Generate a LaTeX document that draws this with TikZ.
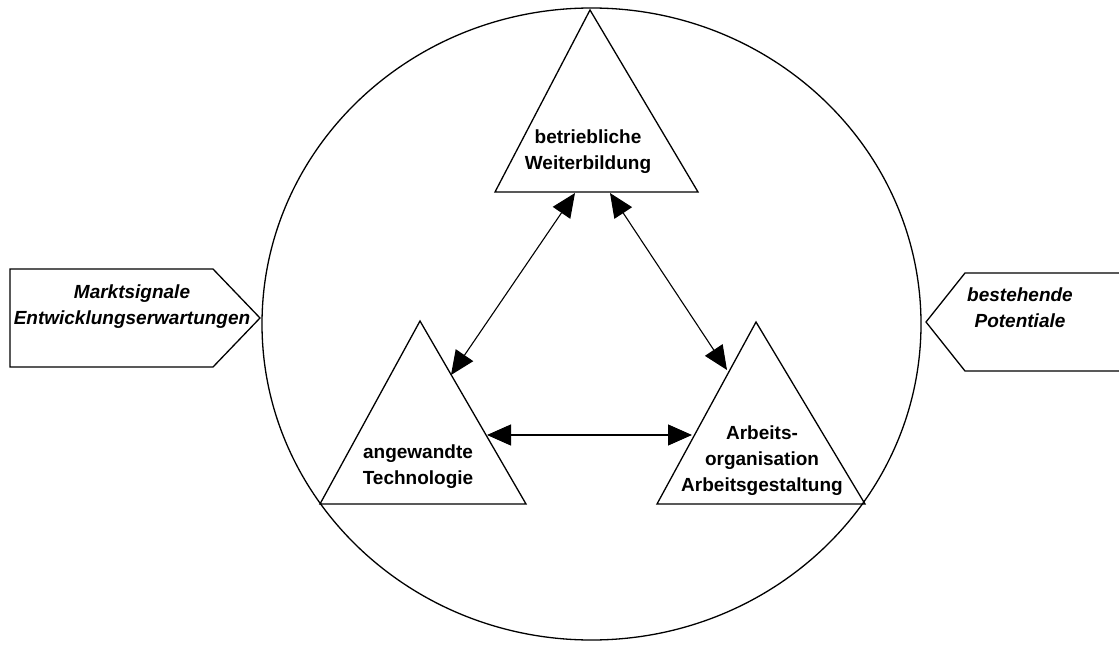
\documentclass[tikz,border=0pt]{standalone}
\usepackage{fontspec}
\setmainfont{Liberation Sans}
\usetikzlibrary{arrows.meta}
\tikzset{
  outline/.style={line width=1.3pt, line join=miter},
  lbl/.style={font=\fontsize{19}{26}\selectfont\bfseries, align=center, inner sep=0pt},
  ilbl/.style={font=\fontsize{19}{26}\selectfont\bfseries\itshape, align=center, inner sep=0pt},
  dbl/.style={line width=1.1pt, {Triangle[length=24pt,width=21pt]}-{Triangle[length=24pt,width=21pt]}}
}
\begin{document}
\begin{tikzpicture}[x=1pt,y=-1pt]
\useasboundingbox (0,0) rectangle (1119,647);
\fill[white] (0,0) rectangle (1119,647);
% big ellipse
\draw[outline] (591.5,324) ellipse [x radius=329.5pt, y radius=316pt];
% triangles
\draw[outline] (590,10) -- (698,192) -- (495,192) -- cycle;
\draw[outline] (420,321) -- (526,504) -- (320,504) -- cycle;
\draw[outline] (756,322) -- (865,504) -- (657,504) -- cycle;
% pentagon arrows
\draw[outline] (10,269) -- (213,269) -- (260,318) -- (213,367) -- (10,367) -- cycle;
\draw[outline] (1121,273) -- (965,273) -- (926,322) -- (965,371) -- (1121,371);
% labels
\node[lbl] (wb) at (588,152) {betriebliche\\Weiterbildung};
\node[lbl] (tech) at (418,467) {angewandte\\Technologie};
\node[lbl] (org) at (762,461) {Arbeits-\\organisation\\Arbeitsgestaltung};
\node[ilbl] (markt) at (132,307) {Marktsignale\\Entwicklungserwartungen};
\node[ilbl] (pot) at (1020,308) {bestehende\\Potentiale};
% arrow end points
\coordinate (wbL) at (575,193);
\coordinate (wbR) at (610,193);
\coordinate (techT) at (451,375);
\coordinate (techR) at (487,435);
\coordinate (orgT) at (727,370);
\coordinate (orgL) at (692,435);
\draw[dbl] (wbL) -- (techT);
\draw[dbl] (wbR) -- (orgT);
\draw[dbl] (techR) -- (orgL);
\end{tikzpicture}
\end{document}
